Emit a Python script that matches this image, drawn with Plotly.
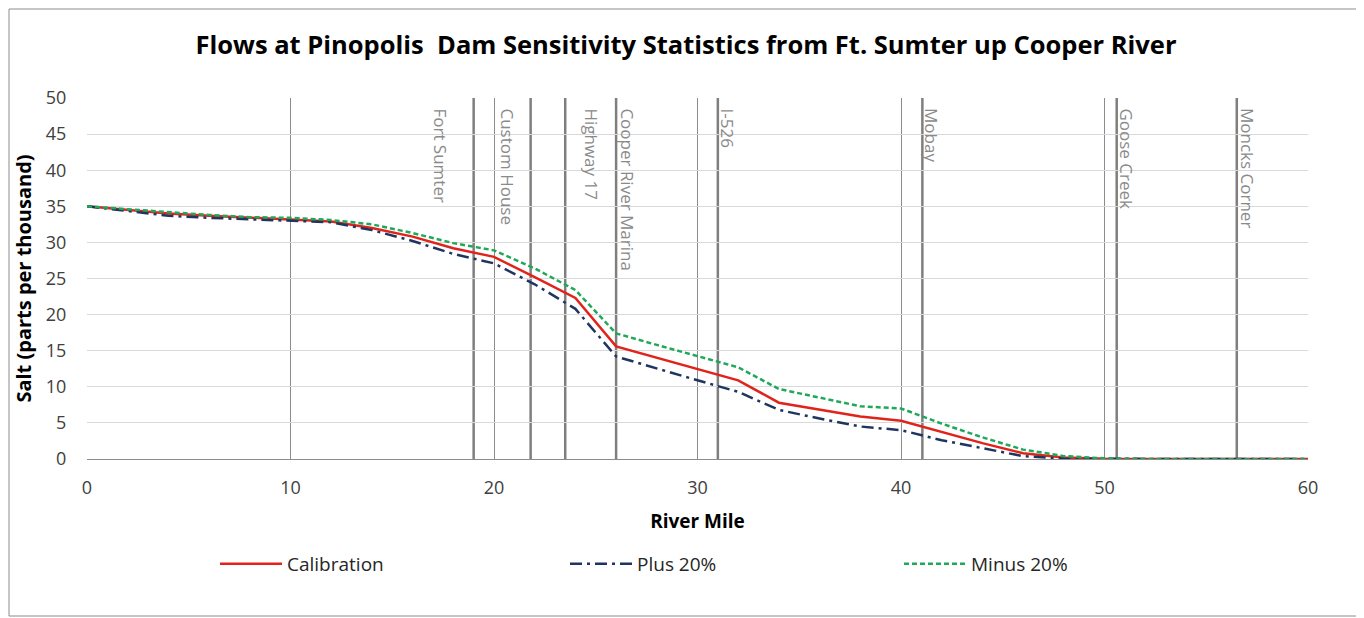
import plotly.graph_objects as go

# ---- data ----
river_mile = [0, 2, 4, 6, 8, 10, 12, 14, 16, 18, 20, 22, 24, 26, 28, 30, 32, 34, 36, 38, 40,
              42, 44, 46, 48, 50, 52, 54, 56, 58, 60]
calibration = [35.0, 34.5, 34.0, 33.7, 33.4, 33.1, 32.9, 32.0, 30.8, 29.2, 28.0, 25.2, 22.3, 15.6,
               14.0, 12.4, 10.9, 7.8, 6.8, 5.9, 5.3, 3.7, 2.2, 0.8, 0.2, 0.05, 0, 0, 0, 0, 0]
plus_20 = [35.0, 34.4, 33.7, 33.4, 33.2, 33.0, 32.8, 31.7, 30.2, 28.4, 27.1, 24.2, 20.8, 14.2,
           12.5, 10.9, 9.3, 6.8, 5.6, 4.5, 4.0, 2.6, 1.5, 0.4, 0.05, 0, 0, 0, 0, 0, 0]
minus_20 = [35.0, 34.6, 34.1, 33.8, 33.5, 33.4, 33.1, 32.5, 31.3, 29.9, 28.9, 26.4, 23.4, 17.4,
            15.8, 14.2, 12.7, 9.7, 8.5, 7.3, 7.0, 4.9, 3.0, 1.3, 0.4, 0.1, 0, 0, 0, 0, 0]

stations = ["Fort Sumter", "Custom House", "Highway 17", "Cooper River Marina", "I-526",
            "Mobay", "Goose Creek", "Moncks Corner"]
station_mile = [19.0, 21.8, 23.5, 26.0, 31.0, 41.05, 50.6, 56.5]
label_mile = [17.35, 20.64, 24.77, 26.54, 31.45, 41.52, 51.06, 57.05]

x_ticks = [0, 10, 20, 30, 40, 50, 60]
y_ticks = [0, 5, 10, 15, 20, 25, 30, 35, 40, 45, 50]

FONT = "Open Sans"

# page layout (the figure div starts 8px into the page)
OFF = 8
FIG_W, FIG_H = 1356, 610
L, R, T, B = 87, 1308, 98, 459          # plot area in page pixels
W, H = R - L, B - T

fig = go.Figure()
fig.add_trace(go.Scatter(x=river_mile, y=calibration, mode="lines", name="Calibration",
                         legendwidth=273,
                         line=dict(color="#e0241c", width=2.5)))
fig.add_trace(go.Scatter(x=river_mile, y=plus_20, mode="lines", name="Plus 20%",
                         legendwidth=257,
                         line=dict(color="#1f3560", width=2.5, dash="12px,5px,3px,5px")))
fig.add_trace(go.Scatter(x=river_mile, y=minus_20, mode="lines", name="Minus 20%",
                         legendwidth=200,
                         line=dict(color="#1fa85a", width=2.5, dash="5px,3px")))

shapes = []
for m in station_mile:
    shapes.append(dict(type="line", xref="x", yref="paper", x0=m, x1=m, y0=0, y1=1,
                       line=dict(color="#7f7f7f", width=2.5), layer="below"))
# outer chart border
shapes.append(dict(type="rect", xref="paper", yref="paper",
                   x0=(9 - L) / W, x1=(1357 - L) / W, y0=(B - 616) / H, y1=(B - 9) / H,
                   line=dict(color="#8c8c8c", width=1), layer="below"))

annotations = []
for name, m in zip(stations, label_mile):
    annotations.append(dict(text=name, x=m, xref="x", y=(B - 106) / H, yref="paper", textangle=90,
                            showarrow=False, xanchor="center", yanchor="top",
                            font=dict(family=FONT, size=17, color="#8a8a8a")))

fig.update_layout(
    width=FIG_W, height=FIG_H,
    margin=dict(l=L - OFF, r=FIG_W - (R - OFF), t=T - OFF, b=FIG_H - (B - OFF)),
    paper_bgcolor="white", plot_bgcolor="white",
    title=dict(text="<b>Flows at Pinopolis  Dam Sensitivity Statistics from Ft. Sumter up Cooper River</b>",
               x=0.5, xanchor="center", y=1 - (45 - OFF) / FIG_H, yanchor="middle",
               font=dict(family=FONT, size=25.5, color="#000000")),
    xaxis=dict(range=[0, 60], tickvals=x_ticks, showgrid=True, gridcolor="#8c8c8c", gridwidth=1,
               zeroline=False, showline=True, linecolor="#8c8c8c", mirror=False,
               ticks="outside", ticklen=12, tickcolor="rgba(0,0,0,0)",
               tickfont=dict(family=FONT, size=18, color="#404040"),
               title=dict(text="<b>River Mile</b>", font=dict(family=FONT, size=19, color="#000000"),
                          standoff=17)),
    yaxis=dict(range=[0, 50], tickvals=y_ticks, showgrid=True, gridcolor="#d9d9d9", gridwidth=1,
               zeroline=False, showline=False,
               ticks="outside", ticklen=16, tickcolor="rgba(0,0,0,0)",
               tickfont=dict(family=FONT, size=18, color="#404040"),
               title=dict(text="<b>Salt (parts per thousand)</b>",
                          font=dict(family=FONT, size=20, color="#000000"), standoff=8)),
    legend=dict(orientation="h", x=(215 - L) / W, xanchor="left", y=(B - 564) / H, yanchor="middle",
                itemwidth=62, font=dict(family=FONT, size=19, color="#262626"),
                bgcolor="rgba(0,0,0,0)"),
    shapes=shapes, annotations=annotations,
)

fig.write_html("out.html")
